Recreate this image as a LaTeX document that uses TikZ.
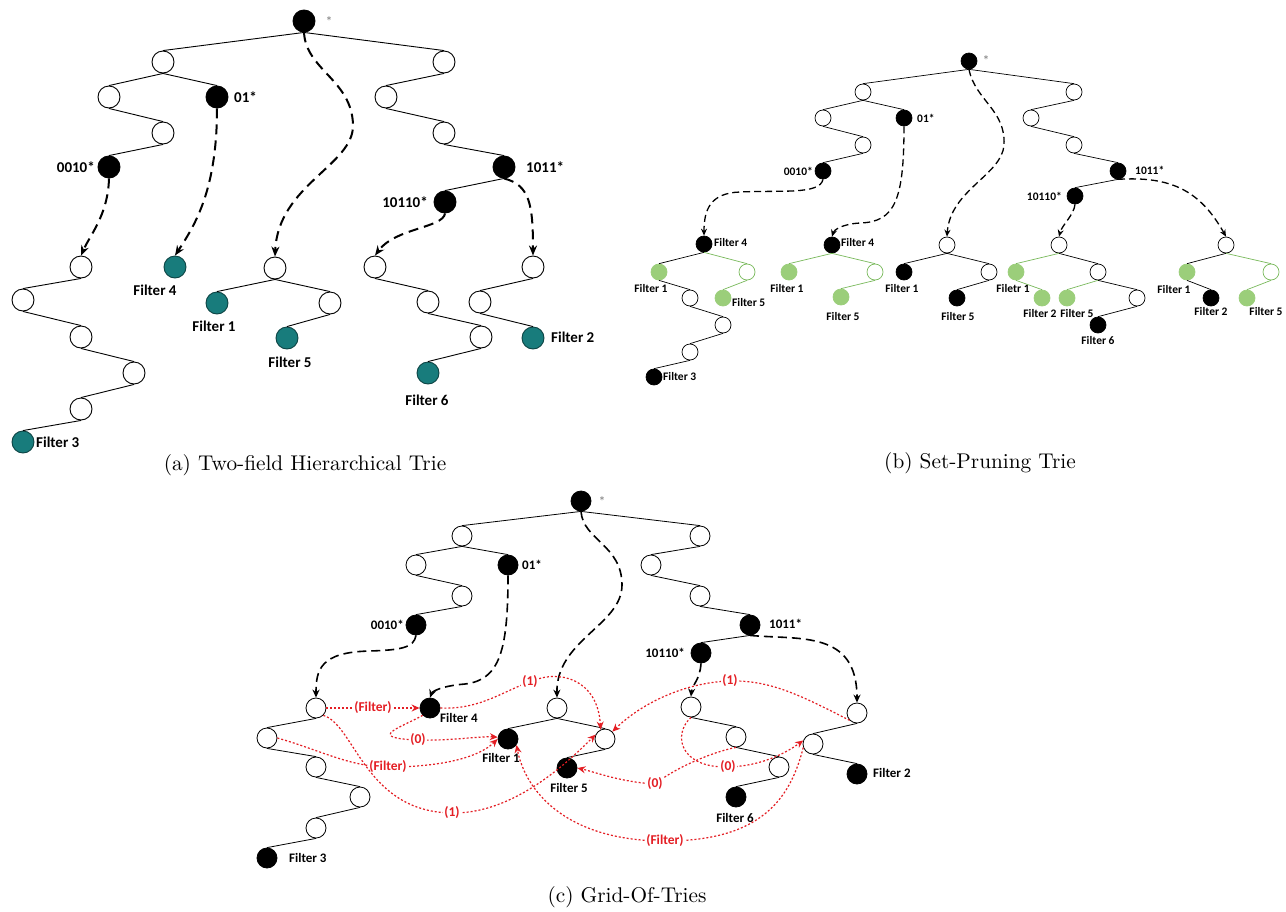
\documentclass[tikz,border=0pt]{standalone}
\usepackage{fontspec}
\newfontfamily\lab{Carlito}
\usetikzlibrary{arrows.meta}
\definecolor{teal2}{RGB}{24,124,124}
\definecolor{lgreen}{RGB}{155,206,122}
\definecolor{egreen}{RGB}{120,185,90}
\definecolor{rred}{RGB}{228,30,36}
\begin{document}
\begin{tikzpicture}[x=1pt,y=-1pt,
 nd/.style={circle,draw=black,line width=0.9pt,inner sep=0pt},
 wa/.style={nd,minimum size=22pt,fill=white},
 ba/.style={nd,minimum size=22pt,fill=black},
 ga/.style={nd,minimum size=22pt,fill=teal2,draw=teal2!55!black},
 wb/.style={nd,minimum size=16pt,fill=white,line width=0.7pt},
 bb/.style={nd,minimum size=16pt,fill=black,line width=0.7pt},
 gb/.style={nd,minimum size=16pt,fill=lgreen,draw=lgreen,line width=0.7pt},
 wgb/.style={nd,minimum size=16pt,fill=white,draw=egreen,line width=0.7pt},
 wc/.style={nd,minimum size=20pt,fill=white,line width=0.8pt},
 bc/.style={nd,minimum size=20pt,fill=black,line width=0.8pt},
 ta/.style={font=\lab\bfseries\fontsize{15}{17}\selectfont,inner sep=0pt},
 tb/.style={font=\lab\bfseries\fontsize{11.5}{13}\selectfont,inner sep=0pt},
 tc/.style={font=\lab\bfseries\fontsize{13}{15}\selectfont,inner sep=0pt},
 tr/.style={font=\lab\bfseries\fontsize{13.5}{15}\selectfont,text=rred,fill=white,inner sep=1pt},
 stl/.style={font=\lab\fontsize{14}{16}\selectfont,text=black!50,inner sep=0pt},
 captxt/.style={font=\fontsize{10}{12}\selectfont,scale=2.13,inner sep=0pt},
 ea/.style={line width=0.9pt},
 eb/.style={line width=0.7pt},
 ebg/.style={line width=0.7pt,draw=egreen},
 ec/.style={line width=0.8pt},
 da/.style={line width=2pt,dash pattern=on 10pt off 6pt,-{Stealth[length=10pt,width=8pt]}},
 db/.style={line width=1.3pt,dash pattern=on 7pt off 4pt,-{Stealth[length=7pt,width=6pt]}},
 dc/.style={line width=1.6pt,dash pattern=on 9pt off 5pt,-{Stealth[length=8pt,width=7pt]}},
 rd/.style={rred,line width=1.2pt,dash pattern=on 2pt off 2pt,-{Stealth[length=8pt,width=7pt]}},
]
\useasboundingbox (0,0) rectangle (1286,911);
\fill[white] (0,0) rectangle (1286,911);

% ================= (a) =================
\node[ba] (aR) at (304,21) {};
\node[stl] (aRs) at (329,22) {*};
\node[wa] (a1L) at (163,62) {};
\node[wa] (a1R) at (444,62) {};
\node[wa] (a2LL) at (109,97) {};
\node[ba] (a01) at (217,97) {};
\node[wa] (a2R) at (386,97) {};
\node[wa] (a3L) at (163,133) {};
\node[wa] (a3R) at (444,133) {};
\node[ba] (a0010) at (109,167) {};
\node[ba] (a1011) at (504,167) {};
\node[ba] (a10110) at (445,202) {};
\node[ta,anchor=west] (la01) at (234,97) {01*};
\node[ta,anchor=east] (la0010) at (95,167) {0010*};
\node[ta,anchor=west] (la1011) at (526,167) {1011*};
\node[ta,anchor=east] (la10110) at (428,202) {10110*};

\node[wa] (aA1) at (81,267) {};
\node[wa] (aA2) at (23,300) {};
\node[wa] (aA3) at (81,337) {};
\node[wa] (aA4) at (134,373) {};
\node[wa] (aA5) at (81,409) {};
\node[ga] (aF3) at (23,442) {};
\node[ta,anchor=west] (laF3) at (36,442) {Filter 3};
\node[ga] (aF4) at (175,267) {};
\node[ta] (laF4) at (155,290) {Filter 4};
\node[wa] (aM) at (275,268) {};
\node[ga] (aF1) at (217,303) {};
\node[ta] (laF1) at (214,326) {Filter 1};
\node[wa] (aMR) at (330,303) {};
\node[ga] (aF5) at (287,338) {};
\node[ta] (laF5) at (290,362) {Filter 5};
\node[wa] (aP) at (375,267) {};
\node[wa] (aP2) at (428,302) {};
\node[wa] (aP3) at (481,337) {};
\node[ga] (aF6) at (428,373) {};
\node[ta] (laF6) at (427,400) {Filter 6};
\node[wa] (aQ) at (533,267) {};
\node[wa] (aQ2) at (480,302) {};
\node[ga] (aF2) at (533,338) {};
\node[ta,anchor=west] (laF2) at (551,337) {Filter 2};

\foreach \p/\c in {aR/a1L,aR/a1R,a1L/a2LL,a1L/a01,a2LL/a3L,a3L/a0010,a1R/a2R,a2R/a3R,a3R/a1011,a1011/a10110,aA1/aA2,aA2/aA3,aA3/aA4,aA4/aA5,aA5/aF3,aM/aF1,aM/aMR,aMR/aF5,aP/aP2,aP2/aP3,aP3/aF6,aQ/aQ2,aQ2/aF2}
  \draw[ea] (\p.south) -- (\c.north);

\draw[da] (aR.south) .. controls (306,70) and (352,80) .. (353,125) .. controls (354,165) and (278,185) .. (aM.north);
\draw[da] (a01.south) .. controls (217,190) and (195,225) .. (aF4.north);
\draw[da] (a0010.south) .. controls (108,215) and (90,235) .. (aA1.north);
\draw[da] (a1011.south) .. controls (530,185) and (533,205) .. (aQ.north);
\draw[da] (a10110.south) .. controls (443,228) and (395,228) .. (aP.north);

\node[captxt] (capa) at (305,465) {(a) Two-field Hierarchical Trie};

% ================= (b) =================
\node[bb] (bR) at (969,61) {};
\node[stl] (bRs) at (986,61) {*};
\node[wb] (b1L) at (863,92) {};
\node[wb] (b1R) at (1074,92) {};
\node[wb] (b2LL) at (823,118) {};
\node[bb] (b01) at (904,118) {};
\node[wb] (b2R) at (1031,118) {};
\node[wb] (b3L) at (863,145) {};
\node[wb] (b3R) at (1074,145) {};
\node[bb] (b0010) at (823,171) {};
\node[bb] (b1011) at (1118,171) {};
\node[bb] (b10110) at (1075,196) {};
\node[tb,anchor=west] (lb01) at (917,118) {01*};
\node[tb,anchor=east] (lb0010) at (813,171) {0010*};
\node[tb,anchor=west] (lb1011) at (1135,170) {1011*};
\node[tb,anchor=east] (lb10110) at (1062,196) {10110*};

% subtree 1
\node[bb] (bS1) at (704,244) {};
\node[tb,anchor=west] (lbS1) at (714,243) {Filter 4};
\node[gb] (bS1L) at (659,272) {};
\node[tb] (lbS1L) at (651,289) {Filter 1};
\node[wgb] (bS1R) at (747,272) {};
\node[gb] (bS1F5) at (723,298) {};
\node[tb,anchor=west] (lbS1F5) at (732,303) {Filter 5};
\node[wb] (bS1a) at (690,298) {};
\node[wb] (bS1b) at (723,325) {};
\node[wb] (bS1c) at (690,352) {};
\node[bb] (bS1F3) at (654,377) {};
\node[tb,anchor=west] (lbS1F3) at (663,377) {Filter 3};
% subtree 2
\node[bb] (bS2) at (832,245) {};
\node[tb,anchor=west] (lbS2) at (841,243) {Filter 4};
\node[gb] (bS2L) at (789,272) {};
\node[tb] (lbS2L) at (787,289) {Filter 1};
\node[wgb] (bS2R) at (875,272) {};
\node[gb] (bS2F5) at (841,297) {};
\node[tb] (lbS2F5) at (843,317) {Filter 5};
% subtree 3
\node[wb] (bS3) at (947,245) {};
\node[bb] (bS3F1) at (904,272) {};
\node[tb] (lbS3F1) at (902,289) {Filter 1};
\node[wb] (bS3R) at (989,272) {};
\node[bb] (bS3F5) at (957,298) {};
\node[tb] (lbS3F5) at (958,317) {Filter 5};
% subtree 4
\node[wb] (bS4) at (1059,245) {};
\node[gb] (bS4L) at (1016,272) {};
\node[tb] (lbS4L) at (1013,289) {Filetr 1};
\node[wb] (bS4R) at (1098,272) {};
\node[gb] (bS4F2) at (1042,298) {};
\node[tb] (lbS4F2) at (1040,314) {Filter 2};
\node[gb] (bS4F5) at (1067,298) {};
\node[tb] (lbS4F5) at (1077,314) {Filter 5};
\node[wb] (bS4a) at (1137,298) {};
\node[bb] (bS4F6) at (1098,325) {};
\node[tb] (lbS4F6) at (1098,341) {Filter 6};
% subtree 5
\node[wb] (bS5) at (1226,245) {};
\node[gb] (bS5L) at (1187,272) {};
\node[tb] (lbS5L) at (1174,290) {Filter 1};
\node[wgb] (bS5R) at (1271,272) {};
\node[bb] (bS5F2) at (1211,298) {};
\node[tb] (lbS5F2) at (1211,312) {Filter 2};
\node[gb] (bS5F5) at (1247,298) {};
\node[tb] (lbS5F5) at (1266,312) {Filter 5};

\foreach \p/\c in {bR/b1L,bR/b1R,b1L/b2LL,b1L/b01,b2LL/b3L,b3L/b0010,b1R/b2R,b2R/b3R,b3R/b1011,b1011/b10110,bS1/bS1L,bS1L/bS1a,bS1a/bS1b,bS1b/bS1c,bS1c/bS1F3,bS3/bS3F1,bS3/bS3R,bS3R/bS3F5,bS4/bS4R,bS4R/bS4a,bS4a/bS4F6,bS5/bS5L,bS5L/bS5F2}
  \draw[eb] (\p.south) -- (\c.north);
\foreach \p/\c in {bS1/bS1R,bS1R/bS1F5,bS2/bS2L,bS2/bS2R,bS2R/bS2F5,bS4/bS4L,bS4L/bS4F2,bS4R/bS4F5,bS5/bS5R,bS5R/bS5F5}
  \draw[ebg] (\p.south) -- (\c.north);

\draw[db] (b0010.south) .. controls (820,195) and (780,190) .. (740,192) .. controls (710,193) and (704,210) .. (bS1.north);
\draw[db] (b01.south) .. controls (904,200) and (895,222) .. (860,223) .. controls (842,224) and (834,230) .. (bS2.north);
\draw[db] (bR.south) .. controls (975,100) and (1006,110) .. (1004,145) .. controls (1002,175) and (950,190) .. (bS3.north);
\draw[db] (b10110.south) .. controls (1074,215) and (1062,225) .. (bS4.north);
\draw[db] (b1011.south) .. controls (1170,176) and (1200,190) .. (bS5.north);

\node[captxt] (capb) at (980,463) {(b) Set-Pruning Trie};

% ================= (c) =================
\node[bc] (cR) at (581,501) {};
\node[stl] (cRs) at (602,502) {*};
\node[wc] (c1L) at (462,536) {};
\node[wc] (c1R) at (700,536) {};
\node[wc] (c2LL) at (416,565) {};
\node[bc] (c01) at (508,565) {};
\node[wc] (c2R) at (651,565) {};
\node[wc] (c3L) at (462,596) {};
\node[wc] (c3R) at (700,596) {};
\node[bc] (c0010) at (416,625) {};
\node[bc] (c1011) at (750,625) {};
\node[bc] (c10110) at (701,653) {};
\node[tc,anchor=west] (lc01) at (522,565) {01*};
\node[tc,anchor=east] (lc0010) at (404,625) {0010*};
\node[tc,anchor=west] (lc1011) at (769,624) {1011*};
\node[tc,anchor=east] (lc10110) at (685,653) {10110*};

\node[wc] (cA1) at (316,708) {};
\node[wc] (cA2) at (267,738) {};
\node[wc] (cA3) at (316,767) {};
\node[wc] (cA4) at (360,797) {};
\node[wc] (cA5) at (316,828) {};
\node[bc] (cF3) at (267,858) {};
\node[tc,anchor=west] (lcF3) at (289,858) {Filter 3};
\node[bc] (cF4) at (430,708) {};
\node[tc,anchor=west] (lcF4) at (440,718) {Filter 4};
\node[wc] (cM) at (557,708) {};
\node[bc] (cF1) at (508,739) {};
\node[tc] (lcF1) at (501,758) {Filter 1};
\node[wc] (cMR) at (605,739) {};
\node[bc] (cF5) at (567,768) {};
\node[tc] (lcF5) at (569,788) {Filter 5};
\node[wc] (cP) at (691,707) {};
\node[wc] (cP2) at (736,737) {};
\node[wc] (cP3) at (779,767) {};
\node[bc] (cF6) at (736,797) {};
\node[tc] (lcF6) at (735,818) {Filter 6};
\node[wc] (cQ) at (857,713) {};
\node[wc] (cQ2) at (813,744) {};
\node[bc] (cF2) at (857,774) {};
\node[tc,anchor=west] (lcF2) at (873,773) {Filter 2};

\foreach \p/\c in {cR/c1L,cR/c1R,c1L/c2LL,c1L/c01,c2LL/c3L,c3L/c0010,c1R/c2R,c2R/c3R,c3R/c1011,c1011/c10110,cA1/cA2,cA2/cA3,cA3/cA4,cA4/cA5,cA5/cF3,cM/cF1,cM/cMR,cMR/cF5,cP/cP2,cP2/cP3,cP3/cF6,cQ/cQ2,cQ2/cF2}
  \draw[ec] (\p.south) -- (\c.north);

\draw[dc] (c0010.south) .. controls (414,648) and (400,650) .. (370,651) .. controls (320,652) and (316,670) .. (cA1.north);
\draw[dc] (c01.south) .. controls (508,650) and (500,680) .. (465,684) .. controls (440,686) and (432,692) .. (cF4.north);
\draw[dc] (cR.south) .. controls (583,540) and (622,545) .. (622,585) .. controls (622,625) and (556,640) .. (cM.north);
\draw[dc] (c10110.south) .. controls (700,680) and (692,685) .. (cP.north);
\draw[dc] (c1011.south) .. controls (800,640) and (857,630) .. (cQ.north);

% red switch pointers
\draw[rd] (cA1.east) -- node[tr] (r1) {(Filter)} (cF4.west);
\draw[rd] (cA2.east) .. controls (320,750) and (350,767) .. (388,767) node[tr] (r2) {(Filter)} .. controls (440,767) and (478,758) .. (cF1.west);
\draw[rd] (cF4.south west) .. controls (400,728) and (365,738) .. (418,740) node[tr] (r3) {(0)} .. controls (450,741) and (480,736) .. (cF1.170);
\draw[rd] (cF4.east) .. controls (480,710) and (505,690) .. (530,682) node[tr] (r4) {(1)} .. controls (560,668) and (598,680) .. (cMR.115);
\draw[rd] (cA1.south east) .. controls (355,725) and (365,812) .. (452,813) node[tr] (r5) {(1)} .. controls (515,814) and (570,760) .. (cMR.155);
\draw[rd] (cQ.south west) .. controls (800,695) and (770,680) .. (730,681) node[tr] (r6) {(1)} .. controls (690,682) and (645,700) .. (cMR.north east);
\draw[rd] (cP.south) .. controls (672,735) and (680,768) .. (728,767) node[tr] (r7) {(0)} .. controls (765,766) and (790,750) .. (cQ2.160);
\draw[rd] (cP2.south) .. controls (712,752) and (675,768) .. (655,784) node[tr] (r8) {(0)} .. controls (620,782) and (595,772) .. (cF5.east);
\draw[rd] (cQ2.200) .. controls (790,800) and (760,841) .. (665,841) node[tr] (r9) {(Filter)} .. controls (565,841) and (525,790) .. (cF1.-35);

\node[captxt] (capc) at (627,897) {(c) Grid-Of-Tries};
\end{tikzpicture}
\end{document}
